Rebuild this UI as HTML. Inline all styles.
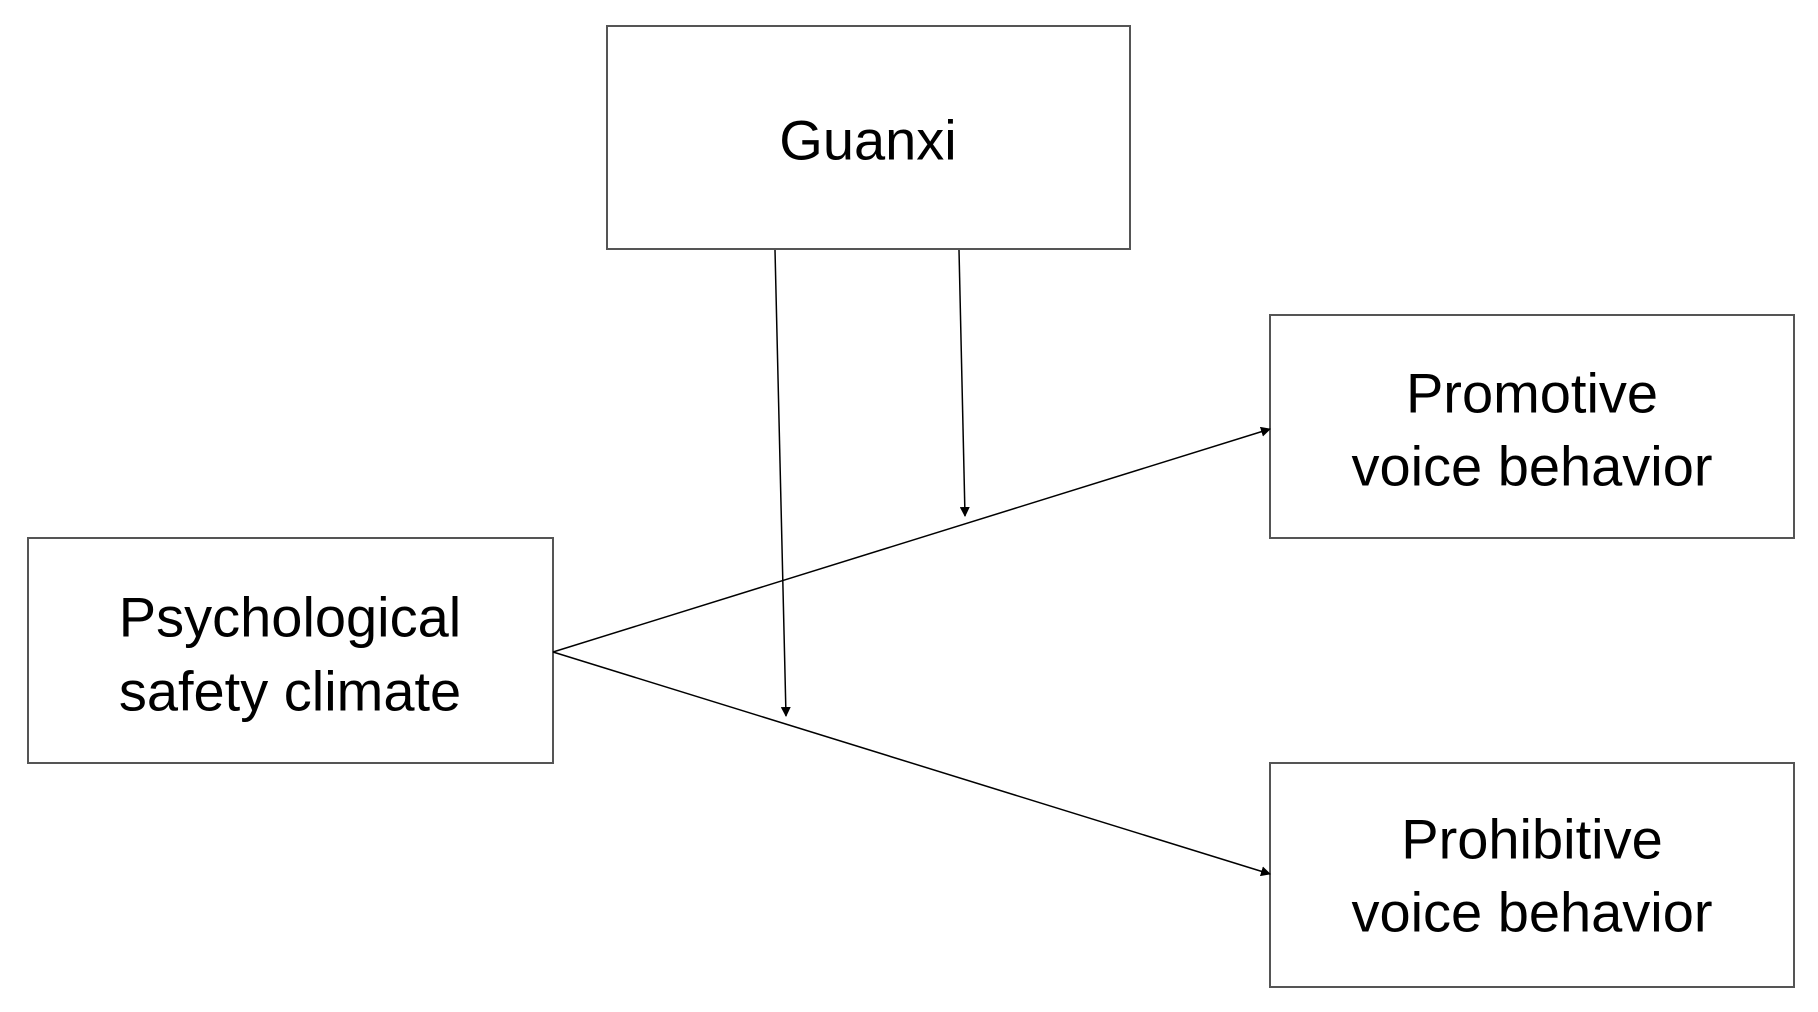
<!DOCTYPE html>
<html><head><style>
html,body{margin:0;padding:0;background:#fff;}
svg{display:block;}
text{font-family:"Liberation Sans",sans-serif;font-size:56px;fill:#000;text-anchor:middle;dominant-baseline:central;}
</style></head><body>
<svg width="1818" height="1012" viewBox="0 0 1818 1012">
<defs><marker id="a" markerWidth="10" markerHeight="10" refX="9" refY="5" orient="auto" markerUnits="userSpaceOnUse"><path d="M0,0 L10,5 L0,10 z" fill="#000"/></marker></defs>
<g fill="none" stroke="#555" stroke-width="2">
<rect x="607" y="26" width="523" height="223"/>
<rect x="1270" y="315" width="524" height="223"/>
<rect x="1270" y="763" width="524" height="224"/>
<rect x="28" y="538" width="525" height="225"/>
</g>
<g stroke="#000" stroke-width="1.5" fill="none">
<line x1="553" y1="652" x2="1270" y2="429" marker-end="url(#a)"/>
<line x1="553" y1="652" x2="1270" y2="874" marker-end="url(#a)"/>
<line x1="775" y1="250" x2="786" y2="716" marker-end="url(#a)"/>
<line x1="959" y1="250" x2="965" y2="516" marker-end="url(#a)"/>
</g>
<text x="868" y="140">Guanxi</text>
<text x="1532" y="393">Promotive</text>
<text x="1532" y="466">voice behavior</text>
<text x="1532" y="839">Prohibitive</text>
<text x="1532" y="912">voice behavior</text>
<text x="290" y="617">Psychological</text>
<text x="290" y="691">safety climate</text>
</svg>
</body></html>
